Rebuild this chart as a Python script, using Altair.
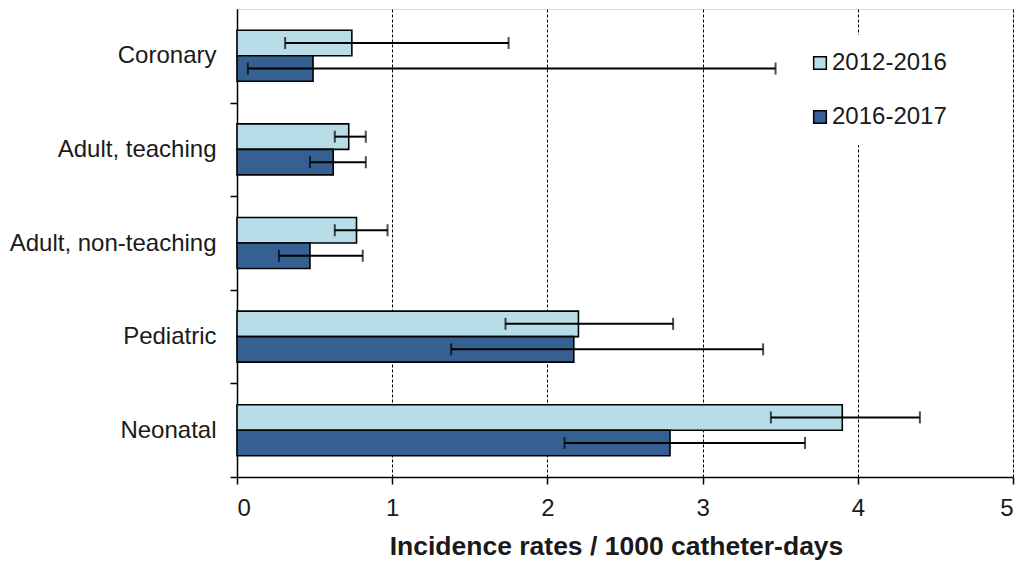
import altair as alt
import pandas as pd

categories = ["Coronary", "Adult, teaching", "Adult, non-teaching", "Pediatric", "Neonatal"]
periods = ["2012-2016", "2016-2017"]
colors = ["#B7DEE8", "#376092"]

rate_2012_2016 = [0.74, 0.72, 0.77, 2.20, 3.90]
low_2012_2016 = [0.31, 0.63, 0.63, 1.73, 3.44]
high_2012_2016 = [1.75, 0.83, 0.97, 2.81, 4.40]

rate_2016_2017 = [0.49, 0.62, 0.47, 2.17, 2.79]
low_2016_2017 = [0.07, 0.47, 0.27, 1.38, 2.11]
high_2016_2017 = [3.47, 0.83, 0.81, 3.39, 3.66]

x_ticks = [0, 1, 2, 3, 4, 5]

rows = []
for i, c in enumerate(categories):
    rows.append({"category": c, "period": periods[0], "rate": rate_2012_2016[i],
                 "low": low_2012_2016[i], "high": high_2012_2016[i]})
    rows.append({"category": c, "period": periods[1], "rate": rate_2016_2017[i],
                 "low": low_2016_2017[i], "high": high_2016_2017[i]})
df = pd.DataFrame(rows)

FONT = "Liberation Sans"
TXT = "#1a1a1a"
W, H = 776, 468
half_step = H / len(categories) / 2

y_enc = alt.Y(
    "category:N", sort=categories,
    scale=alt.Scale(paddingInner=0.455, paddingOuter=0.2275),
    axis=alt.Axis(title=None, tickOffset=half_step, labelOffset=-half_step,
                  tickSize=7, tickWidth=1.5,
                  tickColor="black", domainColor="black", domainWidth=1.5,
                  labelFont=FONT, labelFontSize=24, labelColor=TXT, labelPadding=14,
                  labelLimit=400, grid=False),
)
yoff_enc = alt.YOffset("period:N", sort=periods, scale=alt.Scale(paddingInner=0, paddingOuter=0))

x_axis = alt.Axis(values=x_ticks, format="d", title="Incidence rates / 1000 catheter-days",
                  grid=True, gridColor="black", gridDash=[3, 2], gridWidth=1,
                  tickSize=7, tickWidth=1.5, tickColor="black",
                  domainColor="black", domainWidth=1.5,
                  labelFont=FONT, labelFontSize=24, labelColor=TXT, labelPadding=12,
                  titleFont=FONT, titleFontSize=26.5, titleFontWeight="bold", titleColor=TXT,
                  titlePadding=13, titleX=379, titleAlign="center")
x_scale = alt.Scale(domain=[0, 5], nice=False, zero=True)

base = alt.Chart(df)

bars = base.mark_bar(stroke="black", strokeWidth=1.6).encode(
    x=alt.X("rate:Q", scale=x_scale, axis=x_axis),
    y=y_enc,
    yOffset=yoff_enc,
    color=alt.Color("period:N", sort=periods,
                    scale=alt.Scale(domain=periods, range=colors),
                    legend=alt.Legend(title=None, orient="none", legendX=555, legendY=26,
                                      fillColor="white", padding=16, rowPadding=30,
                                      symbolType="square", symbolSize=160,
                                      symbolStrokeColor="black", symbolStrokeWidth=1.5,
                                      labelFont=FONT, labelFontSize=24, labelColor=TXT,
                                      labelOffset=0)),
)

err = base.mark_rule(color="black", strokeWidth=2).encode(
    x=alt.X("low:Q", scale=x_scale),
    x2="high:Q",
    y=alt.Y("category:N", sort=categories),
    yOffset=alt.YOffset("period:N", sort=periods),
)

caps = base.transform_fold(["low", "high"], as_=["end", "val"]).mark_tick(
    color="black", thickness=2, size=12
).encode(
    x=alt.X("val:Q", scale=x_scale),
    y=alt.Y("category:N", sort=categories),
    yOffset=alt.YOffset("period:N", sort=periods),
)

chart = alt.layer(bars, err, caps).properties(
    width=W, height=H,
    autosize=alt.AutoSizeParams(type="none"),
    padding={"left": 229, "top": 1, "right": 2, "bottom": 86},
).configure_view(stroke="black", strokeWidth=1.5).configure(background="white")

chart.save("out.html", embed_options={"renderer": "svg", "actions": False})
